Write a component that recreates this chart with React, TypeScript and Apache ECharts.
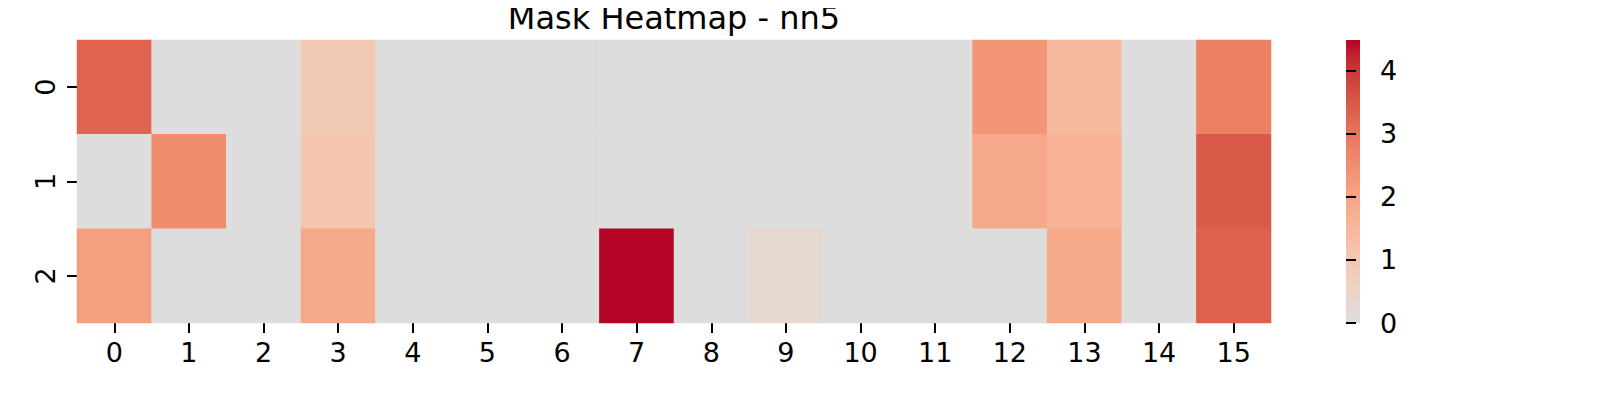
import React, { useEffect, useRef } from "react";
import * as echarts from "echarts";

const xCategories = ["0","1","2","3","4","5","6","7","8","9","10","11","12","13","14","15"];
const yCategories = ["0", "1", "2"];
const row0 = [3.3, 0, 0, 0.93, 0, 0, 0, 0, 0, 0, 0, 0, 2.33, 1.46, 0, 2.78];
const row1 = [0, 2.53, 0, 1.05, 0, 0, 0, 0, 0, 0, 0, 0, 1.9, 1.68, 0, 3.48];
const row2 = [2.13, 0, 0, 1.9, 0, 0, 0, 4.49, 0, 0.28, 0, 0, 0, 1.92, 0, 3.37];
const colorbarTicks = [0, 1, 2, 3, 4];
const vMin = 0;
const vMax = 4.49;
const titleText = "Mask Heatmap - nn5";

// upper half of the coolwarm colormap (centre -> red)
const palette = [
  "rgb(221,221,221)", "rgb(229,216,209)", "rgb(236,211,197)", "rgb(241,204,185)",
  "rgb(245,196,173)", "rgb(247,187,160)", "rgb(247,177,148)", "rgb(246,167,135)",
  "rgb(244,154,123)", "rgb(241,141,111)", "rgb(236,127,99)", "rgb(229,112,88)",
  "rgb(222,96,77)", "rgb(213,80,66)", "rgb(203,62,56)", "rgb(192,40,47)", "rgb(180,4,38)",
];

const FONT = "DejaVu Sans";

export default function App() {
  const ref = useRef<HTMLDivElement>(null);
  useEffect(() => {
    if (!ref.current) return;
    const chart = echarts.init(ref.current, null, { renderer: "svg" });
    const rows = [row0, row1, row2];
    const data: number[][] = [];
    rows.forEach((r, yi) => r.forEach((v, xi) => data.push([xi, yi, v])));

    const gridL = 77, gridT = 40, gridW = 1194, gridH = 283;
    const cbL = 1346, cbW = 14;

    chart.setOption({
      animation: false,
      backgroundColor: "#ffffff",
      title: {
        text: titleText,
        left: gridL + gridW / 2,
        textAlign: "center",
        top: 5,
        padding: 0,
        textStyle: { fontFamily: FONT, fontSize: 32, lineHeight: 26, fontWeight: "normal", color: "#000" },
      },
      grid: [
        { left: gridL, top: gridT, width: gridW, height: gridH },
        { left: cbL, top: gridT, width: cbW, height: gridH },
      ],
      xAxis: [
        {
          type: "category", data: xCategories, gridIndex: 0,
          axisLine: { show: false },
          axisTick: { show: true, alignWithLabel: true, length: 10, lineStyle: { width: 2, color: "#000" } },
          axisLabel: { fontFamily: FONT, fontSize: 27, color: "#000", margin: 16 },
          splitLine: { show: false },
        },
        {
          type: "value", gridIndex: 1, show: false, min: 0, max: 1,
        },
      ],
      yAxis: [
        {
          type: "category", data: yCategories, gridIndex: 0, inverse: true,
          axisLine: { show: false },
          axisTick: { show: true, alignWithLabel: true, length: 10, lineStyle: { width: 2, color: "#000" } },
          axisLabel: { fontFamily: FONT, fontSize: 27, color: "#000", margin: 18, rotate: 90 },
          splitLine: { show: false },
        },
        {
          type: "value", gridIndex: 1, position: "right", min: vMin, max: vMax,
          axisLine: { show: false },
          axisTick: { show: true, length: 10, customValues: colorbarTicks, lineStyle: { width: 2, color: "#000" } },
          axisLabel: {
            fontFamily: FONT, fontSize: 27, color: "#000", margin: 20,
            customValues: colorbarTicks,
          },
          splitLine: { show: false },
        },
      ],
      visualMap: {
        type: "continuous", show: false, min: vMin, max: vMax, dimension: 2, seriesIndex: 0,
        inRange: { color: palette },
      },
      graphic: [
        {
          type: "rect",
          shape: { x: cbL, y: gridT, width: cbW, height: gridH },
          style: {
            fill: new echarts.graphic.LinearGradient(0, 1, 0, 0,
              palette.map((c, i) => ({ offset: i / (palette.length - 1), color: c }))),
          },
          z: -1,
        },
      ],
      series: [
        {
          type: "heatmap", xAxisIndex: 0, yAxisIndex: 0, data,
          itemStyle: { borderWidth: 0 },
          emphasis: { disabled: true },
        },
      ],
    });
    return () => chart.dispose();
  }, []);
  return <div ref={ref} style={{ width: 1600, height: 400, margin: -8 }} />;
}
